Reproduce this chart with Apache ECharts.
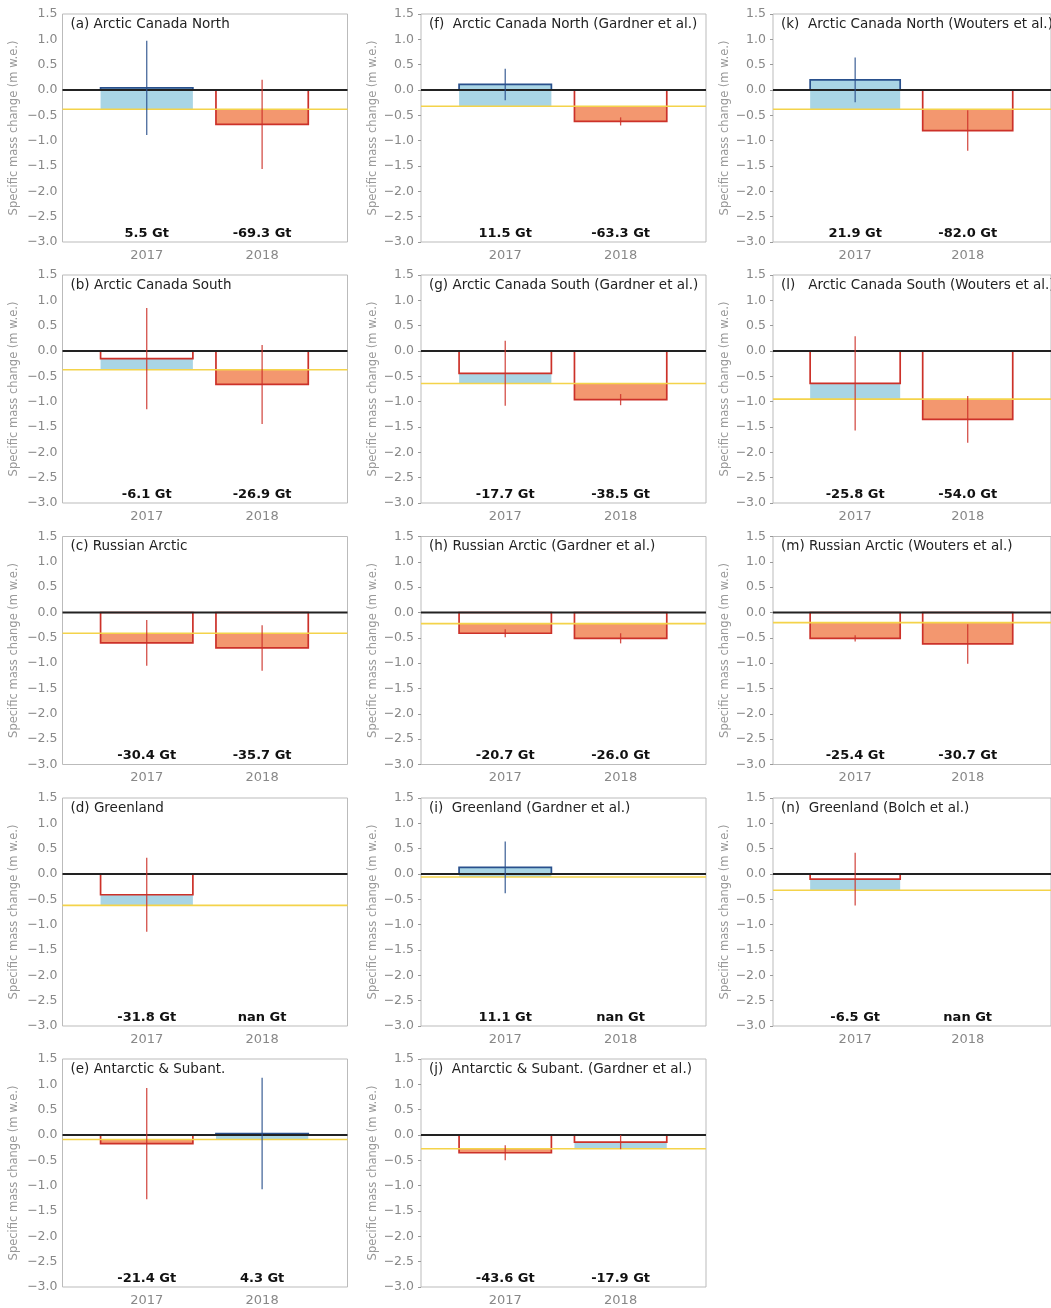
<!DOCTYPE html>
<html>
<head>
<meta charset="utf-8">
<script src="https://cdn.jsdelivr.net/npm/echarts@6/dist/echarts.min.js"></script>
<style>
  body { margin: 0; background: #fff; }
  #chart { width: 1051px; height: 1308px; }
</style>
</head>
<body>
<div id="chart"></div>
<script>
const years = ["2017", "2018"];
const panelTitles = [
  "(a) Arctic Canada North",
  "(b) Arctic Canada South",
  "(c) Russian Arctic",
  "(d) Greenland",
  "(e) Antarctic & Subant.",
  "(f)  Arctic Canada North (Gardner et al.)",
  "(g) Arctic Canada South (Gardner et al.)",
  "(h) Russian Arctic (Gardner et al.)",
  "(i)  Greenland (Gardner et al.)",
  "(j)  Antarctic & Subant. (Gardner et al.)",
  "(k)  Arctic Canada North (Wouters et al.)",
  "(l)   Arctic Canada South (Wouters et al.)",
  "(m) Russian Arctic (Wouters et al.)",
  "(n)  Greenland (Bolch et al.)",
];
// specific mass change per year (m w.e.), null = no data
const specificChange = [
  [0.04, -0.68], [-0.15, -0.66], [-0.6, -0.7], [-0.41, null], [-0.17, 0.03],
  [0.11, -0.62], [-0.44, -0.96], [-0.41, -0.51], [0.13, null], [-0.35, -0.14],
  [0.2, -0.8], [-0.64, -1.35], [-0.51, -0.62], [-0.1, null],
];
const changeError = [
  [0.93, 0.88], [1.0, 0.78], [0.45, 0.45], [0.73, null], [1.1, 1.1],
  [0.31, 0.08], [0.64, 0.11], [0.08, 0.1], [0.51, null], [0.15, 0.14],
  [0.44, 0.4], [0.93, 0.46], [0.06, 0.39], [0.52, null],
];
// reference (yellow) level per panel
const referenceLevel = [
  -0.38, -0.37, -0.41, -0.62, -0.09,
  -0.32, -0.64, -0.22, -0.06, -0.27,
  -0.38, -0.95, -0.2, -0.32,
];
const totalMass = [
  [5.5, -69.3], [-6.1, -26.9], [-30.4, -35.7], [-31.8, NaN], [-21.4, 4.3],
  [11.5, -63.3], [-17.7, -38.5], [-20.7, -26.0], [11.1, NaN], [-43.6, -17.9],
  [21.9, -82.0], [-25.8, -54.0], [-25.4, -30.7], [-6.5, NaN],
];

const X_MIN = -0.73, X_MAX = 1.74, BAR_W = 0.8;
const colLeft = [62.5, 421, 773];
const rowTop = [14, 275, 536.5, 798, 1059];
const PW = 285, PH = 228;
const RED = "#cc3129", BLUE = "#29508c";
const LIGHTBLUE = "#a9d5e5", SALMON = "#f3976f";

var myChart = echarts.init(document.getElementById("chart"));

const grids = [], xAxes = [], yAxes = [], titles = [], series = [];

panelTitles.forEach((t, i) => {
  const col = Math.floor(i / 5), row = i % 5;
  grids.push({
    left: colLeft[col], top: rowTop[row], width: PW, height: PH,
    show: true, borderColor: "#bbb", borderWidth: 1,
  });
  titles.push({
    text: t, left: colLeft[col] + 8, top: rowTop[row] + 3, padding: 0,
    textStyle: { fontSize: 13.5, fontWeight: "normal", color: "#222", fontFamily: "DejaVu Sans" },
  });
  xAxes.push({
    gridIndex: i, type: "value", min: X_MIN, max: X_MAX, position: "bottom",
    axisLine: { show: false, onZero: false }, splitLine: { show: false }, axisTick: { show: false },
    axisLabel: {
      customValues: [0, 1], formatter: (v) => years[Math.round(v)],
      fontSize: 13, color: "#888", margin: 7, fontFamily: "DejaVu Sans",
    },
  });
  yAxes.push({
    gridIndex: i, type: "value", min: -3, max: 1.5, interval: 0.5, position: "left",
    axisLine: { show: false, onZero: false }, splitLine: { show: false },
    axisTick: { show: col > 0, length: 3, lineStyle: { color: "#999", width: 1 } },
    axisLabel: {
      formatter: (v) => v.toFixed(1).replace("-", "\u2212"),
      fontSize: 12.5, color: "#888", margin: col > 0 ? 7 : 5, fontFamily: "DejaVu Sans",
    },
    name: "Specific mass change (m w.e.)", nameLocation: "middle", nameGap: 42,
    nameTextStyle: { fontSize: 11.5, color: "#999", fontFamily: "DejaVu Sans" },
  });

  const barData = [], errData = [];
  years.forEach((y, j) => {
    const v = specificChange[i][j];
    if (v == null) return;
    barData.push([j, v, referenceLevel[i]]);
    errData.push([j, v, changeError[i][j]]);
  });

  // bars: fill between value and reference, outline from 0 to value
  series.push({
    type: "custom", xAxisIndex: i, yAxisIndex: i, z: 2, silent: true,
    data: barData, encode: { x: 0, y: 1 },
    renderItem: (params, api) => {
      const x = api.value(0), v = api.value(1), r = api.value(2);
      const p0 = api.coord([x - BAR_W / 2, 0]);
      const pv = api.coord([x + BAR_W / 2, v]);
      const pr = api.coord([x + BAR_W / 2, r]);
      const w = pv[0] - p0[0];
      return {
        type: "group",
        children: [
          {
            type: "rect",
            shape: { x: p0[0], y: Math.min(pv[1], pr[1]), width: w, height: Math.abs(pv[1] - pr[1]) },
            style: { fill: v > r ? LIGHTBLUE : SALMON },
          },
          {
            type: "rect",
            shape: { x: p0[0], y: Math.min(p0[1], pv[1]), width: w, height: Math.abs(pv[1] - p0[1]) },
            style: { fill: "none", stroke: v > 0 ? BLUE : RED, lineWidth: 1.7 },
          },
        ],
      };
    },
  });

  // reference line and zero line
  series.push({
    type: "custom", xAxisIndex: i, yAxisIndex: i, z: 3, silent: true,
    data: [[referenceLevel[i], 0], [0, 1]], encode: { y: 0 },
    renderItem: (params, api) => {
      const yv = api.value(0), isZero = api.value(1) === 1;
      const a = api.coord([X_MIN, yv]), b = api.coord([X_MAX, yv]);
      return {
        type: "line", z2: isZero ? 2 : 1,
        shape: { x1: a[0], y1: a[1], x2: b[0], y2: b[1] },
        style: { stroke: isZero ? "#222" : "#f4d34a", lineWidth: isZero ? 1.8 : 1.6 },
      };
    },
  });

  // error bars
  series.push({
    type: "custom", xAxisIndex: i, yAxisIndex: i, z: 4, silent: true,
    data: errData, encode: { x: 0, y: 1 },
    renderItem: (params, api) => {
      const x = api.value(0), v = api.value(1), e = api.value(2);
      const a = api.coord([x, v + e]), b = api.coord([x, v - e]);
      return {
        type: "line",
        shape: { x1: a[0], y1: a[1], x2: b[0], y2: b[1] },
        style: { stroke: v > 0 ? BLUE : RED, lineWidth: 1.3, opacity: 0.85 },
      };
    },
  });

  // total mass labels
  series.push({
    type: "custom", xAxisIndex: i, yAxisIndex: i, z: 5, silent: true,
    data: years.map((y, j) => [j, totalMass[i][j]]), encode: { x: 0 },
    renderItem: (params, api) => {
      const g = totalMass[i][params.dataIndex];
      const p = api.coord([api.value(0), -2.83]);
      return {
        type: "text",
        style: {
          x: p[0], y: p[1], text: (isNaN(g) ? "nan" : g.toFixed(1)) + " Gt",
          align: "center", verticalAlign: "middle",
          font: "bold 13px 'DejaVu Sans'", fill: "#111",
        },
      };
    },
  });
});

myChart.setOption({
  animation: false,
  textStyle: { fontFamily: "DejaVu Sans" },
  title: titles,
  grid: grids,
  xAxis: xAxes,
  yAxis: yAxes,
  series: series,
});
</script>
</body>
</html>
